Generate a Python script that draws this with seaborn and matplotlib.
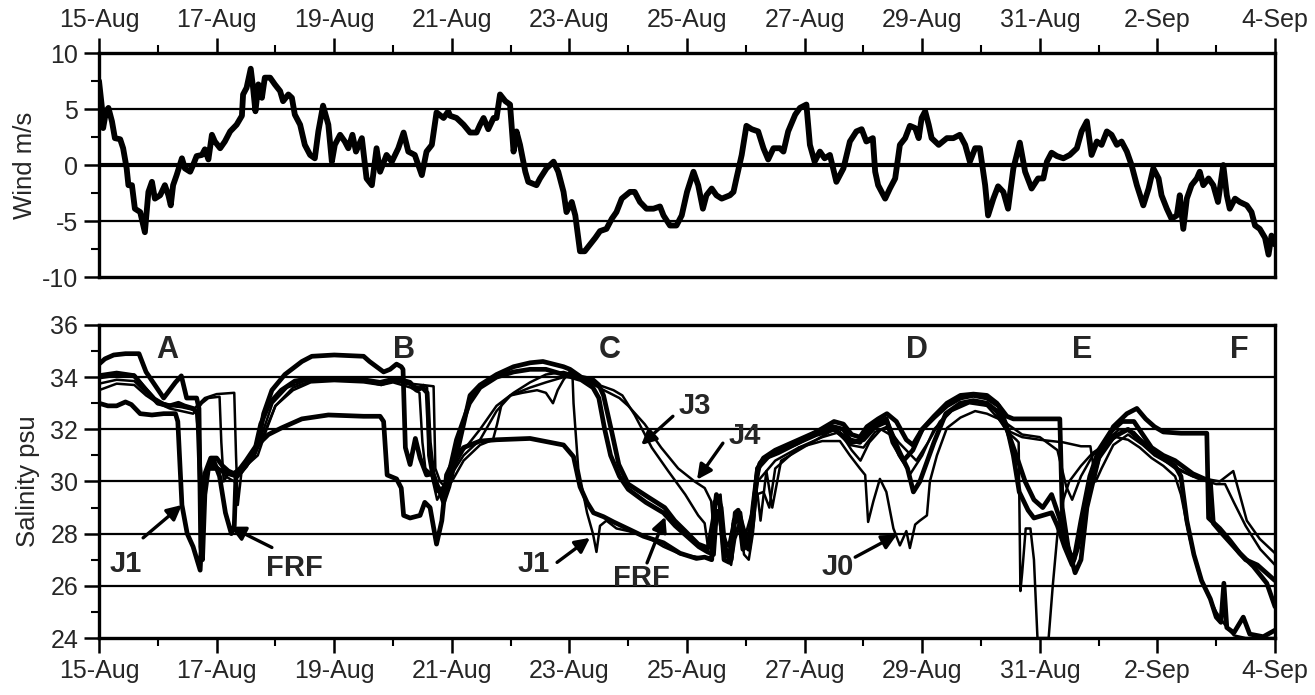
import numpy as np
import pandas as pd
import matplotlib
matplotlib.use("Agg")
import matplotlib.pyplot as plt
import matplotlib.dates as mdates
import seaborn as sns

START = pd.Timestamp("1994-08-15")

# ---- wind (m/s), day offset from 15-Aug ----
wind_day = [0.0, 0.05, 0.07, 0.12, 0.16, 0.22, 0.27, 0.36, 0.41, 0.47, 0.5, 0.56, 0.61, 0.7, 0.78, 0.84, 0.9, 0.95,
            1.04, 1.12, 1.18, 1.22, 1.26, 1.32, 1.41, 1.46, 1.55, 1.6, 1.66, 1.75, 1.8, 1.86, 1.92, 1.97, 2.06, 2.14,
            2.23, 2.34, 2.43, 2.45, 2.51, 2.58, 2.62, 2.66, 2.71, 2.77, 2.82, 2.91, 2.99, 3.08, 3.13, 3.22, 3.28, 3.33,
            3.42, 3.5, 3.59, 3.67, 3.73, 3.81, 3.9, 3.96, 4.01, 4.1, 4.18, 4.24, 4.31, 4.37, 4.47, 4.55, 4.64, 4.72,
            4.78, 4.89, 4.98, 5.09, 5.18, 5.26, 5.37, 5.49, 5.57, 5.66, 5.74, 5.86, 5.94,
            5.97, 6.08, 6.2, 6.31, 6.42, 6.48, 6.54, 6.62, 6.71, 6.76, 6.82, 6.91, 6.99, 7.05, 7.1, 7.16, 7.25, 7.3,
            7.44, 7.5, 7.61, 7.73, 7.81, 7.9, 7.95, 8.04, 8.1, 8.18, 8.26, 8.35, 8.44, 8.52, 8.63, 8.72, 8.8, 8.89,
            9.03, 9.11, 9.2, 9.31, 9.43, 9.54, 9.6, 9.71, 9.82, 9.91, 10.0, 10.11, 10.19, 10.27, 10.33, 10.42, 10.5,
            10.59, 10.73, 10.79, 10.84, 10.93, 11.01, 11.1, 11.21, 11.3, 11.38, 11.47, 11.58, 11.64, 11.72, 11.84,
            11.92, 12.03, 12.09, 12.17, 12.26, 12.34, 12.43, 12.54, 12.66, 12.77, 12.88, 12.97, 13.05, 13.16,
            13.2, 13.25, 13.37, 13.45, 13.54, 13.62, 13.71, 13.79, 13.88, 13.94, 13.99, 14.05, 14.11, 14.16, 14.28,
            14.42, 14.53, 14.64, 14.73, 14.81, 14.9, 14.98, 15.07, 15.12, 15.21, 15.29, 15.38, 15.46, 15.55, 15.66,
            15.75, 15.86, 15.97, 16.06, 16.12, 16.2, 16.29, 16.4, 16.51, 16.63, 16.71, 16.8, 16.88, 16.97, 17.05,
            17.14, 17.22, 17.31, 17.39, 17.48, 17.56, 17.65, 17.76, 17.85, 17.93, 18.02, 18.07, 18.16, 18.24, 18.33,
            18.38, 18.44, 18.5, 18.58, 18.67, 18.72, 18.78, 18.87, 18.95, 19.03, 19.12, 19.18, 19.23, 19.32, 19.4,
            19.52, 19.6, 19.66, 19.74, 19.83, 19.89, 19.94, 20.0]
wind_ms = [7.5, 5.1, 3.3, 4.8, 5.1, 3.9, 2.4, 2.3, 1.5, -0.3, -1.8, -1.8, -3.9, -4.2, -6.0, -2.4, -1.5, -3.0,
           -2.7, -1.8, -2.7, -3.6, -1.8, -0.9, 0.6, -0.3, -0.6, 0.0, 0.8, 0.9, 1.4, 0.5, 2.7, 2.1, 1.5, 2.1,
           3.0, 3.6, 4.4, 6.3, 6.9, 8.6, 6.9, 4.8, 7.2, 6.0, 7.8, 7.8, 7.2, 6.6, 5.7, 6.3, 6.0, 4.5,
           3.6, 1.8, 0.9, 0.6, 3.0, 5.3, 3.6, 0.3, 1.8, 2.7, 2.1, 1.5, 2.7, 1.2, 2.4, -1.2, -1.8, 1.5,
           -0.6, 0.9, 0.3, 1.5, 2.9, 1.2, 0.9, -0.9, 1.2, 1.8, 4.7, 4.2, 4.8,
           4.4, 4.2, 3.6, 2.9, 2.9, 3.6, 4.2, 3.2, 4.2, 4.2, 6.3, 5.7, 5.4, 1.2, 3.0, 1.8, -0.6, -1.5,
           -1.8, -1.2, -0.3, 0.3, -0.6, -2.4, -4.2, -3.3, -4.5, -7.7, -7.7, -7.1, -6.5, -5.9, -5.7, -4.8, -4.2, -3.0,
           -2.4, -2.4, -3.3, -3.9, -3.9, -3.7, -4.5, -5.4, -5.4, -4.5, -2.4, -0.6, -1.8, -3.9, -2.7, -2.1, -2.7,
           -3.0, -2.7, -2.4, -1.2, 0.9, 3.5, 3.2, 3.0, 1.5, 0.5, 1.5, 1.5, 1.2, 3.0, 4.5,
           5.1, 5.4, 1.8, 0.3, 1.2, 0.6, 0.9, -1.5, -0.3, 2.1, 3.0, 3.2, 2.1, 2.4,
           -0.6, -1.8, -3.0, -2.1, -1.2, 1.8, 2.4, 3.5, 3.3, 2.4, 4.2, 4.8, 3.6, 2.4, 1.8,
           2.4, 2.4, 2.7, 1.8, 0.3, 1.5, 1.5, -1.8, -4.5, -3.0, -1.9, -2.4, -3.9, -0.3, 2.0,
           -0.6, -2.1, -1.2, -1.2, 0.3, 1.1, 0.8, 0.6, 0.9, 1.5, 3.0, 3.9, 0.9, 2.1, 1.8,
           3.0, 2.7, 1.8, 2.1, 1.2, 0.0, -1.8, -3.6, -2.1, -0.3, -1.2, -2.7, -3.9, -4.8, -4.5,
           -2.7, -5.7, -3.0, -1.8, -1.2, -0.6, -1.8, -1.2, -1.8, -3.3, 0.0, -2.7, -3.9, -3.0, -3.3,
           -3.6, -4.2, -5.4, -5.7, -6.5, -8.0, -6.3, -7.1]

# ---- salinity (psu) at each station, day offset from 15-Aug ----
frf_day = [0, 0.1, 0.25, 0.45, 0.68, 0.8, 0.98, 1.1, 1.2, 1.3, 1.4, 1.49, 1.66, 1.7, 1.73, 1.76, 1.8, 1.86, 1.95,
           2.05, 2.15, 2.25, 2.3, 2.33, 2.45, 2.6, 2.72, 2.8, 2.94, 3.16, 3.45, 3.62, 4.0, 4.5, 4.6, 4.84, 4.95,
           5.06, 5.14, 5.17, 5.21, 5.29, 5.38, 5.46, 5.57, 5.68, 5.77, 5.86, 5.95, 6.08, 6.31, 6.48, 6.76, 7.05,
           7.33, 7.55, 7.9, 8.01, 8.2, 8.4, 8.5, 8.58, 8.72, 8.84, 9.0, 9.34, 9.62, 9.79, 9.97, 10.19, 10.36,
           10.45, 10.5, 10.58, 10.65, 10.75, 10.8, 10.9, 10.97, 11.05, 11.12, 11.2, 11.3, 11.5, 11.9, 12.2, 12.5,
           12.66, 12.8, 12.94, 13.06, 13.25, 13.4, 13.56, 13.73, 13.84, 14.0, 14.2, 14.42, 14.65, 14.87, 15.1,
           15.27, 15.44, 15.55, 16.34, 16.38, 16.48, 16.6, 16.7, 16.8, 17.0, 17.25, 17.48, 17.65, 17.8, 17.95,
           18.1, 18.4, 18.84, 18.87, 19.06, 19.23, 19.4, 19.63, 19.86, 20.0]
frf_psu = [34.5, 34.7, 34.85, 34.9, 34.9, 34.2, 33.6, 33.2, 33.5, 33.8, 34.05, 33.2, 33.2, 32.8, 27.5, 27.0, 29.5,
           30.5, 30.8, 30.2, 28.8, 28.0, 28.3, 30.3, 30.5, 30.9, 31.6, 32.6, 33.5, 34.1, 34.6, 34.8, 34.85, 34.8,
           34.6, 34.2, 34.3, 34.5, 34.4, 34.3, 31.3, 30.65, 31.65, 30.9, 30.25, 30.3, 29.75, 29.2, 29.8, 31.0,
           33.3, 33.7, 34.1, 34.4, 34.55, 34.6, 34.4, 34.3, 34.0, 33.9, 33.7, 33.3, 31.9, 30.65, 29.9, 29.4,
           29.0, 28.5, 28.1, 27.6, 27.45, 28.6, 29.5, 29.0, 27.3, 27.1, 28.5, 28.8, 27.6, 27.4, 28.5, 30.5, 30.9,
           31.2, 31.6, 31.9, 32.3, 32.2, 31.8, 31.7, 32.1, 32.4, 32.6, 32.3, 31.6, 31.4, 32.0, 32.5, 33.0, 33.3,
           33.35, 33.3, 33.0, 32.5, 32.4, 32.4, 29.0, 27.5, 26.5, 27.0, 29.0, 30.9, 32.1, 32.6, 32.8, 32.4,
           32.1, 31.9, 31.85, 31.85, 28.6, 28.2, 27.75, 27.25, 26.75, 26.1, 25.2]

j1_day = [0, 0.15, 0.3, 0.45, 0.55, 0.7, 0.9, 1.1, 1.3, 1.34, 1.41, 1.5, 1.6, 1.72, 1.8, 1.9, 2.0, 2.1, 2.2, 2.3,
          2.4, 2.5, 2.65, 2.88, 3.1, 3.45, 3.9, 4.5, 4.78, 4.84, 4.9, 5.06, 5.14, 5.18, 5.29, 5.46, 5.54, 5.63,
          5.74, 5.83, 5.91, 6.05, 6.2, 6.48, 6.76, 7.33, 7.9, 8.07, 8.18, 8.3, 8.41, 8.58, 8.75, 9.03, 9.26, 9.6,
          9.88, 10.16, 10.3, 10.42, 10.47, 10.55, 10.62, 10.75, 10.82, 10.87, 10.95, 11.04, 11.1, 11.19, 11.24,
          11.33, 11.55, 11.9, 12.2, 12.49, 12.66, 12.77, 12.94, 13.06, 13.23, 13.39, 13.5, 13.68, 13.84, 14.0,
          14.2, 14.42, 14.65, 14.87, 15.1, 15.3, 15.44, 15.55, 15.65, 15.8, 15.9, 16.05, 16.2, 16.3, 16.42,
          16.55, 16.65, 16.8, 17.0, 17.25, 17.5, 17.7, 17.9, 18.1, 18.3, 18.4, 18.5, 18.62, 18.75, 18.9, 19.0,
          19.08, 19.13, 19.18, 19.3, 19.46, 19.57, 19.8, 20.0]
j1_psu = [33.0, 32.9, 32.9, 33.05, 32.95, 32.6, 32.55, 32.6, 32.6, 32.3, 29.1, 28.0, 27.5, 26.6, 30.3, 30.9, 30.9,
          30.6, 30.4, 30.3, 30.5, 30.8, 31.3, 31.8, 32.05, 32.4, 32.55, 32.5, 32.5, 32.3, 30.25, 30.1, 29.75,
          28.7, 28.6, 28.7, 29.2, 29.0, 27.6, 28.5, 30.25, 30.9, 31.3, 31.55, 31.6, 31.65, 31.4, 30.95, 29.8,
          29.2, 28.8, 28.65, 28.45, 28.15, 27.9, 27.65, 27.25, 27.05, 27.1, 27.0, 29.2, 29.4, 27.5, 27.0, 28.8,
          28.9, 27.4, 27.6, 28.3, 30.2, 30.7, 30.9, 31.1, 31.5, 31.9, 32.1, 32.0, 31.6, 31.5, 32.0, 32.2, 32.4,
          31.5, 30.8, 31.2, 32.0, 32.45, 32.9, 33.2, 33.3, 33.2, 32.9, 32.1, 31.0, 29.6, 28.9, 28.6, 28.7, 28.8,
          28.3, 27.5, 26.8, 27.5, 29.4, 30.9, 31.7, 32.0, 31.6, 31.2, 30.9, 30.6, 30.2, 28.5, 27.2, 26.2, 25.5,
          24.8, 24.6, 26.1, 24.4, 24.2, 24.8, 24.15, 24.05, 24.3]

j2_day = [0, 0.3, 0.6, 0.8, 1.0, 1.2, 1.35, 1.45, 1.6, 1.68, 1.72, 1.76, 1.85, 2.0, 2.2, 2.35, 2.5, 2.65, 2.75,
          2.9, 3.1, 3.33, 3.6, 4.0, 4.5, 4.78, 5.06, 5.29, 5.4, 5.5, 5.58, 5.62, 5.68, 5.75, 5.85, 5.95, 6.08,
          6.3, 6.48, 6.76, 7.05, 7.33, 7.6, 7.9, 8.2, 8.4, 8.5, 8.6, 8.7, 8.85, 9.0, 9.3, 9.6, 9.8, 10.0, 10.2,
          10.35, 10.45, 10.5, 10.56, 10.63, 10.72, 10.8, 10.88, 10.95, 11.05, 11.12, 11.2, 11.4, 11.9, 12.2,
          12.5, 12.8, 13.0, 13.2, 13.4, 13.6, 13.75, 13.85, 13.96, 14.2, 14.4, 14.65, 14.87, 15.1, 15.27,
          15.44, 15.6, 15.75, 15.9, 16.05, 16.2, 16.35, 16.5, 16.58, 16.7, 16.85, 17.0, 17.2, 17.4, 17.6,
          17.75, 17.9, 18.1, 18.3, 18.6, 18.9, 18.95, 19.1, 19.3, 19.5, 19.7, 19.9, 20.0]
j2_psu = [34.0, 34.1, 34.05, 33.5, 33.0, 32.9, 33.0, 32.9, 32.8, 32.6, 30.0, 29.8, 30.5, 30.5, 30.3, 30.2, 30.6,
          31.2, 32.2, 33.0, 33.5, 33.85, 33.95, 33.95, 33.9, 33.8, 33.95, 33.8, 33.5, 33.6, 33.4, 31.5, 30.3,
          29.8, 29.6, 30.3, 31.6, 33.0, 33.6, 34.0, 34.2, 34.3, 34.3, 34.1, 33.9, 33.6, 33.2, 32.0, 31.0, 30.2,
          29.7, 29.2, 28.8, 28.3, 27.9, 27.5, 27.3, 27.2, 28.8, 28.9, 27.0, 26.9, 28.4, 28.6, 27.9, 27.5, 29.0,
          30.5, 31.0, 31.5, 31.8, 32.0, 31.5, 31.6, 32.1, 32.3, 31.2, 30.5, 29.6, 30.0, 31.5, 32.6, 33.0, 33.1,
          33.0, 32.7, 32.0, 31.0, 30.0, 29.3, 29.0, 29.5, 28.5, 27.3, 27.0, 28.5, 30.2, 31.2, 31.9, 32.3, 32.3,
          31.8, 31.3, 31.0, 30.8, 30.3, 30.0, 28.4, 28.0, 27.5, 27.0, 26.8, 26.4, 26.2]

j3_day = [0, 0.3, 0.6, 0.75, 0.95, 1.1, 1.3, 1.5, 1.65, 1.75, 1.86, 2.05, 2.08, 2.12, 2.2, 2.35, 2.5, 2.65, 2.8,
          2.95, 3.2, 3.5, 4.0, 4.5, 4.8, 5.0, 5.3, 5.5, 5.69, 5.72, 5.8, 5.88, 6.0, 6.2, 6.48, 6.76, 7.05, 7.33,
          7.6, 7.9, 8.2, 8.5, 8.85, 9.0, 9.28, 9.56, 9.85, 10.13, 10.3, 10.41, 10.45, 10.5, 10.57, 10.62, 10.7,
          10.8, 10.9, 11.0, 11.1, 11.2, 11.5, 11.9, 12.3, 12.6, 12.8, 12.95, 13.1, 13.3, 13.45, 13.6, 13.8, 14.0,
          14.2, 14.5, 14.8, 15.1, 15.3, 15.5, 15.7, 16.0, 16.4, 16.7, 16.86, 16.95, 17.05, 17.25, 17.5, 17.75,
          17.95, 18.27, 18.6, 19.06, 19.29, 19.4, 19.52, 19.74, 20.0]
j3_psu = [34.1, 34.2, 34.1, 33.7, 33.2, 33.0, 32.9, 32.85, 32.7, 33.0, 33.2, 33.25, 31.5, 30.0, 30.3, 30.4, 30.7,
          31.1, 32.0, 33.0, 33.6, 33.85, 33.9, 33.85, 33.7, 33.85, 33.75, 33.7, 33.65, 30.5, 30.0, 29.8, 30.4,
          31.2, 32.0, 32.9, 33.4, 33.8, 34.1, 34.2, 34.0, 33.6, 33.2, 32.9, 32.2, 31.3, 30.5, 30.0, 29.75, 29.25,
          28.2, 29.4, 29.5, 28.0, 27.5, 28.6, 28.8, 28.0, 28.8, 30.0, 30.8, 31.3, 31.7, 31.9, 31.2, 30.8, 31.5,
          32.0, 31.8, 31.0, 30.3, 31.0, 32.0, 32.7, 33.0, 32.9, 32.4, 31.9, 31.7, 31.6, 31.5, 31.35, 31.35,
          30.0, 30.5, 31.4, 31.8, 31.4, 31.0, 30.6, 30.2, 30.0, 30.4, 29.5, 28.5, 27.8, 27.25]

j4_day = [0, 0.3, 0.6, 0.8, 1.0, 1.2, 1.4, 1.6, 1.8, 2.0, 2.3, 2.33, 2.36, 2.42, 2.5, 2.65, 2.8, 3.0, 3.3, 3.6,
          4.0, 4.5, 4.8, 5.0, 5.3, 5.45, 5.52, 5.58, 5.6, 5.66, 5.75, 5.85, 6.0, 6.2, 6.48, 6.76, 7.0, 7.33, 7.6,
          7.9, 8.2, 8.5, 8.75, 8.9, 9.11, 9.4, 9.68, 9.97, 10.19, 10.3, 10.35, 10.45, 10.52, 10.6, 10.7, 10.8,
          10.9, 11.0, 11.08, 11.15, 11.2, 11.25, 11.35, 11.45, 11.6, 11.9, 12.2, 12.5, 12.77, 13.0, 13.2, 13.4,
          13.6, 13.9, 14.1, 14.3, 14.6, 14.9, 15.2, 15.45, 15.7, 16.0, 16.3, 16.45, 16.55, 16.7, 16.9, 17.1,
          17.35, 17.6, 17.8, 18.0, 18.3, 18.7, 19.0, 19.15, 19.3, 19.5, 19.75, 20.0]
j4_psu = [33.75, 33.9, 33.85, 33.4, 33.1, 32.9, 32.85, 32.75, 33.2, 33.35, 33.4, 31.0, 29.1, 30.3, 30.6, 31.0,
          31.8, 32.9, 33.6, 33.85, 33.9, 33.85, 33.75, 33.9, 33.7, 33.6, 33.7, 33.6, 31.0, 30.2, 29.6, 29.8, 30.3,
          31.0, 31.6, 32.7, 33.3, 33.6, 33.8, 34.0, 34.0, 33.7, 33.5, 33.3, 32.55, 31.3, 30.4, 29.5, 28.7, 28.4,
          27.6, 27.8, 28.9, 27.8, 27.3, 27.9, 28.5, 27.8, 28.3, 29.8, 29.5, 28.5, 30.4, 29.0, 30.8, 31.2, 31.6,
          32.0, 31.4, 31.3, 31.9, 32.1, 31.5, 30.8, 31.5, 32.3, 32.9, 33.1, 32.8, 32.2, 31.8, 31.7, 31.2, 29.8,
          29.3, 30.2, 31.0, 31.5, 32.0, 31.9, 31.4, 31.0, 30.5, 30.1, 29.9, 29.9, 29.2, 28.3, 27.4, 26.8]

j0_day = [0, 0.3, 0.6, 0.8, 1.0, 1.2, 1.4, 1.6, 1.65, 1.7, 1.75, 1.85, 2.0, 2.15, 2.3, 2.4, 2.55, 2.7, 2.85, 3.0,
          3.3, 3.6, 4.0, 4.5, 4.8, 5.0, 5.3, 5.45, 5.5, 5.55, 5.65, 5.75, 5.85, 6.0, 6.2, 6.48, 6.7, 6.77, 6.85,
          7.0, 7.2, 7.45, 7.6, 7.72, 7.8, 7.9, 8.0, 8.05, 8.07, 8.15, 8.3, 8.4, 8.46, 8.52, 8.63, 8.8, 9.0, 9.3,
          9.6, 9.9, 10.2, 10.3, 10.42, 10.5, 10.58, 10.66, 10.75, 10.82, 10.9, 10.97, 11.05, 11.12, 11.18, 11.3,
          11.4, 11.5, 11.9, 12.3, 12.6, 12.77, 12.94, 13.03, 13.08, 13.17, 13.28, 13.39, 13.51, 13.62, 13.73,
          13.79, 13.88, 13.96, 14.08, 14.13, 14.25, 14.42, 14.65, 14.9, 15.1, 15.3, 15.45, 15.6, 15.64, 15.67,
          15.7, 15.76, 15.84, 15.9, 15.96, 16.15, 16.22, 16.3, 16.4, 16.5, 16.7, 16.9, 17.1, 17.3, 17.5, 17.7,
          17.9, 18.1, 18.3, 18.4, 18.55, 18.7, 18.85, 19.0, 19.15, 19.3, 19.5, 20.0]
j0_psu = [33.5, 33.75, 33.7, 33.3, 33.0, 32.8, 32.7, 32.6, 32.7, 31.5, 30.0, 30.6, 30.6, 30.2, 30.0, 30.4, 30.7,
          31.0, 32.0, 32.9, 33.5, 33.8, 33.85, 33.8, 33.7, 33.8, 33.6, 33.4, 31.5, 30.5, 30.3, 29.3, 29.7, 30.0,
          30.8, 31.4, 31.6, 32.2, 33.0, 33.3, 33.4, 33.5, 33.4, 33.0, 33.5, 33.9, 34.2, 34.2, 33.0, 30.5, 28.8,
          28.0, 27.3, 28.3, 28.5, 28.2, 28.1, 27.9, 27.5, 27.2, 27.1, 27.1, 27.1, 28.5, 28.6, 27.2, 26.8, 27.8,
          28.3, 27.2, 27.0, 28.0, 29.5, 29.6, 29.0, 30.5, 31.3, 31.55, 31.55, 31.0, 30.5, 30.25, 28.45, 29.25,
          30.1, 29.6, 28.2, 27.55, 28.1, 27.45, 28.35, 28.5, 28.7, 30.0, 31.0, 32.05, 32.45, 32.7, 32.6, 32.4,
          31.9, 31.6, 31.5, 25.8, 26.5, 28.2, 28.2, 27.0, 24.0, 24.0, 26.0, 28.0, 29.3, 30.0, 30.6, 31.1, 31.4,
          31.7, 31.6, 31.3, 30.9, 30.6, 30.2, 29.5, 27.8, 26.5, 25.7, 25.0, 24.5, 24.1, 24.0, 24.0]

stations = ["FRF", "J1", "J2", "J3", "J4", "J0"]
station_day = [frf_day, j1_day, j2_day, j3_day, j4_day, j0_day]
station_psu = [frf_psu, j1_psu, j2_psu, j3_psu, j4_psu, j0_psu]
station_lw = [3.4, 3.4, 3.4, 1.8, 1.8, 1.8]

# ---- axis ticks and annotations ----
date_labels = ["15-Aug", "17-Aug", "19-Aug", "21-Aug", "23-Aug", "25-Aug",
               "27-Aug", "29-Aug", "31-Aug", "2-Sep", "4-Sep"]
wind_ticks = [-10, -5, 0, 5, 10]
psu_ticks = [24, 26, 28, 30, 32, 34, 36]
event_letters = ["A", "B", "C", "D", "E", "F"]
event_day = [1.16, 5.19, 8.69, 13.91, 16.72, 19.39]
event_psu = 35.05
# label, text position (day, psu), arrow tail (day, psu), arrow tip (day, psu)
callouts = [
    ("J1", (0.45, 26.84), (0.75, 27.84), (1.41, 29.1)),
    ("FRF", (3.33, 26.7), (2.94, 27.47), (2.23, 28.27)),
    ("J1", (7.4, 26.84), (7.79, 26.9), (8.35, 27.84)),
    ("FRF", (9.23, 26.3), (9.32, 26.88), (9.63, 28.65)),
    ("J3", (10.14, 32.9), (9.76, 32.5), (9.22, 31.4)),
    ("J4", (10.99, 31.74), (10.61, 31.47), (10.17, 30.07)),
    ("J0", (12.57, 26.73), (12.86, 27.1), (13.57, 27.96)),
]

for d, v in zip(station_day, station_psu):
    if len(d) != len(v):
        raise ValueError(f"length mismatch {len(d)} vs {len(v)}")
if len(wind_day) != len(wind_ms):
    raise ValueError(f"wind length mismatch {len(wind_day)} vs {len(wind_ms)}")


def t(days):
    return mdates.date2num(START + pd.to_timedelta(np.asarray(days, dtype=float), unit="D"))


sns.set_theme(style="ticks")
plt.rcParams["font.family"] = ["Liberation Sans", "DejaVu Sans"]

fig = plt.figure(figsize=(13.15, 6.95), dpi=100)
ax1 = fig.add_axes([0.0753, 0.6014, 0.8943, 0.3223])
ax2 = fig.add_axes([0.0753, 0.0820, 0.8943, 0.4504])

FS = 18

# wind panel
wind_df = pd.DataFrame({"time": t(wind_day), "wind": wind_ms})
for v in (5, -5):
    ax1.axhline(v, color="black", lw=1.6, zorder=1)
ax1.axhline(0, color="black", lw=3.0, zorder=1)
sns.lineplot(data=wind_df, x="time", y="wind", ax=ax1, color="black", linewidth=4.2,
             estimator=None, sort=False, zorder=3)
ax1.set_ylim(-10, 10)
ax1.set_yticks(wind_ticks)
ax1.set_yticklabels([str(v) for v in wind_ticks])
ax1.set_yticks([-7.5, -2.5, 2.5, 7.5], minor=True)
ax1.set_ylabel("Wind m/s", fontsize=FS + 0.5)
ax1.yaxis.set_label_coords(-0.053, 0.5)

# salinity panel
for v in (26, 28, 30, 32, 34):
    ax2.axhline(v, color="black", lw=1.6, zorder=1)
for name, d, v, lw in zip(stations, station_day, station_psu, station_lw):
    df = pd.DataFrame({"time": t(d), "psu": v})
    sns.lineplot(data=df, x="time", y="psu", ax=ax2, color="black", linewidth=lw,
                 estimator=None, sort=False, zorder=3)
ax2.set_ylim(24, 36)
ax2.set_yticks(psu_ticks)
ax2.set_yticklabels([str(v) for v in psu_ticks])
ax2.set_yticks([25, 27, 29, 31, 33, 35], minor=True)
ax2.set_ylabel("Salinity psu", fontsize=FS + 0.5)
ax2.yaxis.set_label_coords(-0.05, 0.5)

for letter, d in zip(event_letters, event_day):
    ax2.text(t(d), event_psu, letter, fontsize=22, fontweight="bold", ha="center", va="center", zorder=4)

for label, txt, tail, tip in callouts:
    ax2.text(t(txt[0]), txt[1], label, fontsize=21, fontweight="bold", ha="center", va="center", zorder=4)
    ax2.annotate("", xy=(t(tip[0]), tip[1]), xytext=(t(tail[0]), tail[1]),
                 arrowprops=dict(arrowstyle="-|>", color="black", lw=2.4, mutation_scale=22,
                                 shrinkA=0, shrinkB=0), zorder=4)

major = t(np.arange(0, 21, 2))
minor = t(np.arange(0, 21, 1))
for ax in (ax1, ax2):
    ax.set_xlim(t(0), t(20))
    ax.set_xticks(major)
    ax.set_xticklabels(date_labels)
    ax.set_xticks(minor, minor=True)
    ax.set_xlabel("")
    ax.tick_params(which="major", direction="out", length=11, width=1.8, labelsize=FS, pad=4, color="black")
    ax.tick_params(which="minor", direction="out", length=5.5, width=1.5, color="black")
    for s in ax.spines.values():
        s.set_visible(True)
        s.set_color("black")
        s.set_linewidth(2.4)

ax1.xaxis.tick_top()
ax1.tick_params(axis="x", which="both", top=True, bottom=False, labeltop=True, labelbottom=False)
ax2.tick_params(axis="x", which="both", top=False, bottom=True)

fig.savefig("out.png", dpi=100, facecolor="white")
